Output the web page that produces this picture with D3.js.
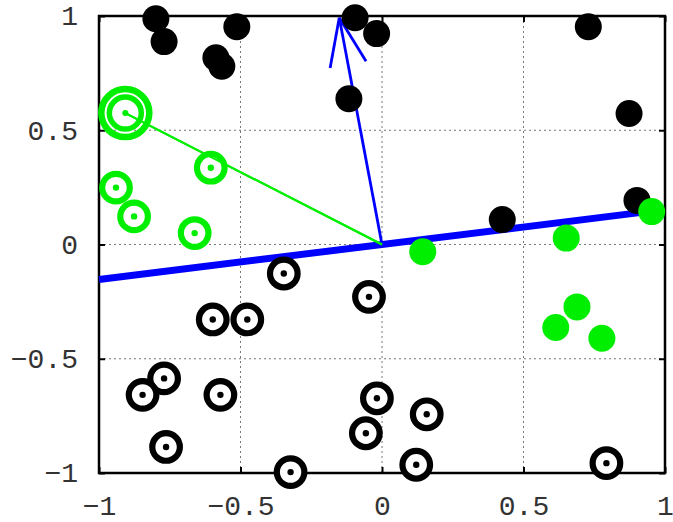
<!DOCTYPE html>
<html>
<head>
<meta charset="utf-8">
<script src="https://cdn.jsdelivr.net/npm/d3@7"></script>
<style>
  body { margin: 0; background: #fff; }
  svg { display: block; }
  .tick text { font-family: "Liberation Mono", monospace; font-size: 28px; fill: #333; }
</style>
</head>
<body>
<svg id="chart" width="673" height="522"></svg>
<script>
// ticks shared by both axes
const tickValues = [-1, -0.5, 0, 0.5, 1];
const gridValues = [-0.5, 0, 0.5];

// filled black points
const blackDots = [
  [-0.799, 0.988], [-0.770, 0.888], [-0.513, 0.953], [-0.587, 0.817], [-0.566, 0.780],
  [-0.095, 0.992], [-0.019, 0.923], [-0.117, 0.638], [0.729, 0.953], [0.873, 0.573],
  [0.901, 0.193], [0.425, 0.109]
];
// filled green points
const greenDots = [
  [0.953, 0.144], [0.651, 0.028], [0.144, -0.032], [0.614, -0.363], [0.689, -0.273], [0.777, -0.410]
];
// green target points
const greenRings = [
  [-0.605, 0.336], [-0.940, 0.249], [-0.876, 0.123], [-0.662, 0.050]
];
// black target points
const blackRings = [
  [-0.347, -0.127], [-0.598, -0.328], [-0.476, -0.328], [-0.770, -0.586], [-0.846, -0.658],
  [-0.571, -0.658], [-0.763, -0.886], [-0.323, -0.996], [-0.046, -0.229], [-0.018, -0.673],
  [-0.057, -0.826], [0.158, -0.743], [0.121, -0.964], [0.793, -0.957]
];
// highlighted green point (double ring)
const bigRing = [-0.907, 0.575];
// thick blue direction line
const blueLine = [[-1, -0.153], [0.953, 0.146]];
// blue arrow from origin
const arrowTip = [-0.151, 0.992];

const svg = d3.select("#chart");
const mLeft = 99, mRight = 665, mTop = 16, mBottom = 473;

const x = d3.scaleLinear().domain([-1, 1]).range([mLeft, mRight]);
const y = d3.scaleLinear().domain([-1, 1]).range([mBottom, mTop]);

// grid
const grid = svg.append("g")
  .attr("stroke", "#777")
  .attr("stroke-width", 1)
  .attr("stroke-dasharray", "2,3");
grid.selectAll(".gx").data(gridValues).enter().append("line")
  .attr("x1", d => x(d)).attr("x2", d => x(d))
  .attr("y1", mTop).attr("y2", mBottom);
grid.selectAll(".gy").data(gridValues).enter().append("line")
  .attr("y1", d => y(d)).attr("y2", d => y(d))
  .attr("x1", mLeft).attr("x2", mRight);

// axes with inward ticks
const fmt = d3.format("");
svg.append("g").attr("transform", `translate(0,${mBottom})`)
  .call(d3.axisBottom(x).tickValues(tickValues).tickFormat(fmt).tickSizeInner(-6).tickSizeOuter(0).tickPadding(22));
svg.append("g").attr("transform", `translate(${mLeft},0)`)
  .call(d3.axisLeft(y).tickValues(tickValues).tickFormat(fmt).tickSizeInner(-6).tickSizeOuter(0).tickPadding(21));
svg.append("g").attr("transform", `translate(0,${mTop})`)
  .call(d3.axisTop(x).tickValues(tickValues).tickFormat("").tickSizeInner(-6).tickSizeOuter(0));
svg.append("g").attr("transform", `translate(${mRight},0)`)
  .call(d3.axisRight(y).tickValues(tickValues).tickFormat("").tickSizeInner(-6).tickSizeOuter(0));
svg.selectAll(".domain").remove();
svg.selectAll(".tick line").attr("stroke", "#000").attr("stroke-width", 2);

svg.append("rect")
  .attr("x", mLeft).attr("y", mTop)
  .attr("width", mRight - mLeft).attr("height", mBottom - mTop)
  .attr("fill", "none").attr("stroke", "#000").attr("stroke-width", 2.5);

// blue thick line
svg.append("line")
  .attr("x1", x(blueLine[0][0])).attr("y1", y(blueLine[0][1]))
  .attr("x2", x(blueLine[1][0])).attr("y2", y(blueLine[1][1]))
  .attr("stroke", "#0000ff").attr("stroke-width", 7);

// blue arrow
const ax0 = x(0), ay0 = y(0), ax1 = x(arrowTip[0]), ay1 = y(arrowTip[1]);
const ang = Math.atan2(ay0 - ay1, ax0 - ax1);
const headLen = 51, headAng = 21 * Math.PI / 180;
const arrow = svg.append("g").attr("stroke", "#0000ff").attr("stroke-width", 2.8).attr("fill", "none");
arrow.append("line").attr("x1", ax0).attr("y1", ay0).attr("x2", ax1).attr("y2", ay1);
[-1, 1].forEach(s => {
  arrow.append("line")
    .attr("x1", ax1).attr("y1", ay1)
    .attr("x2", ax1 + headLen * Math.cos(ang + s * headAng))
    .attr("y2", ay1 + headLen * Math.sin(ang + s * headAng));
});

// green line to highlighted point
svg.append("line")
  .attr("x1", x(0)).attr("y1", y(0))
  .attr("x2", x(bigRing[0])).attr("y2", y(bigRing[1]))
  .attr("stroke", "#00ee00").attr("stroke-width", 2);

// filled dots
svg.append("g").selectAll("circle").data(blackDots).enter().append("circle")
  .attr("cx", d => x(d[0])).attr("cy", d => y(d[1])).attr("r", 13.5).attr("fill", "#000");
svg.append("g").selectAll("circle").data(greenDots).enter().append("circle")
  .attr("cx", d => x(d[0])).attr("cy", d => y(d[1])).attr("r", 13.5).attr("fill", "#00ee00");

function rings(data, color) {
  const g = svg.append("g");
  g.selectAll(".ring").data(data).enter().append("circle")
    .attr("cx", d => x(d[0])).attr("cy", d => y(d[1])).attr("r", 13.8)
    .attr("fill", "#fff").attr("stroke", color).attr("stroke-width", 6.2);
  g.selectAll(".dot").data(data).enter().append("circle")
    .attr("cx", d => x(d[0])).attr("cy", d => y(d[1])).attr("r", 3.2)
    .attr("fill", color);
}
rings(greenRings, "#00ee00");
rings(blackRings, "#000");

// highlighted double ring
const bg = svg.append("g").attr("fill", "none").attr("stroke", "#00ee00");
bg.append("circle").attr("cx", x(bigRing[0])).attr("cy", y(bigRing[1])).attr("r", 24).attr("stroke-width", 6.5);
bg.append("circle").attr("cx", x(bigRing[0])).attr("cy", y(bigRing[1])).attr("r", 16).attr("stroke-width", 5.5);
svg.append("circle").attr("cx", x(bigRing[0])).attr("cy", y(bigRing[1])).attr("r", 3).attr("fill", "#00ee00");
svg.append("line")
  .attr("x1", x(0)).attr("y1", y(0))
  .attr("x2", x(bigRing[0])).attr("y2", y(bigRing[1]))
  .attr("stroke", "#00ee00").attr("stroke-width", 2);
</script>
</body>
</html>
